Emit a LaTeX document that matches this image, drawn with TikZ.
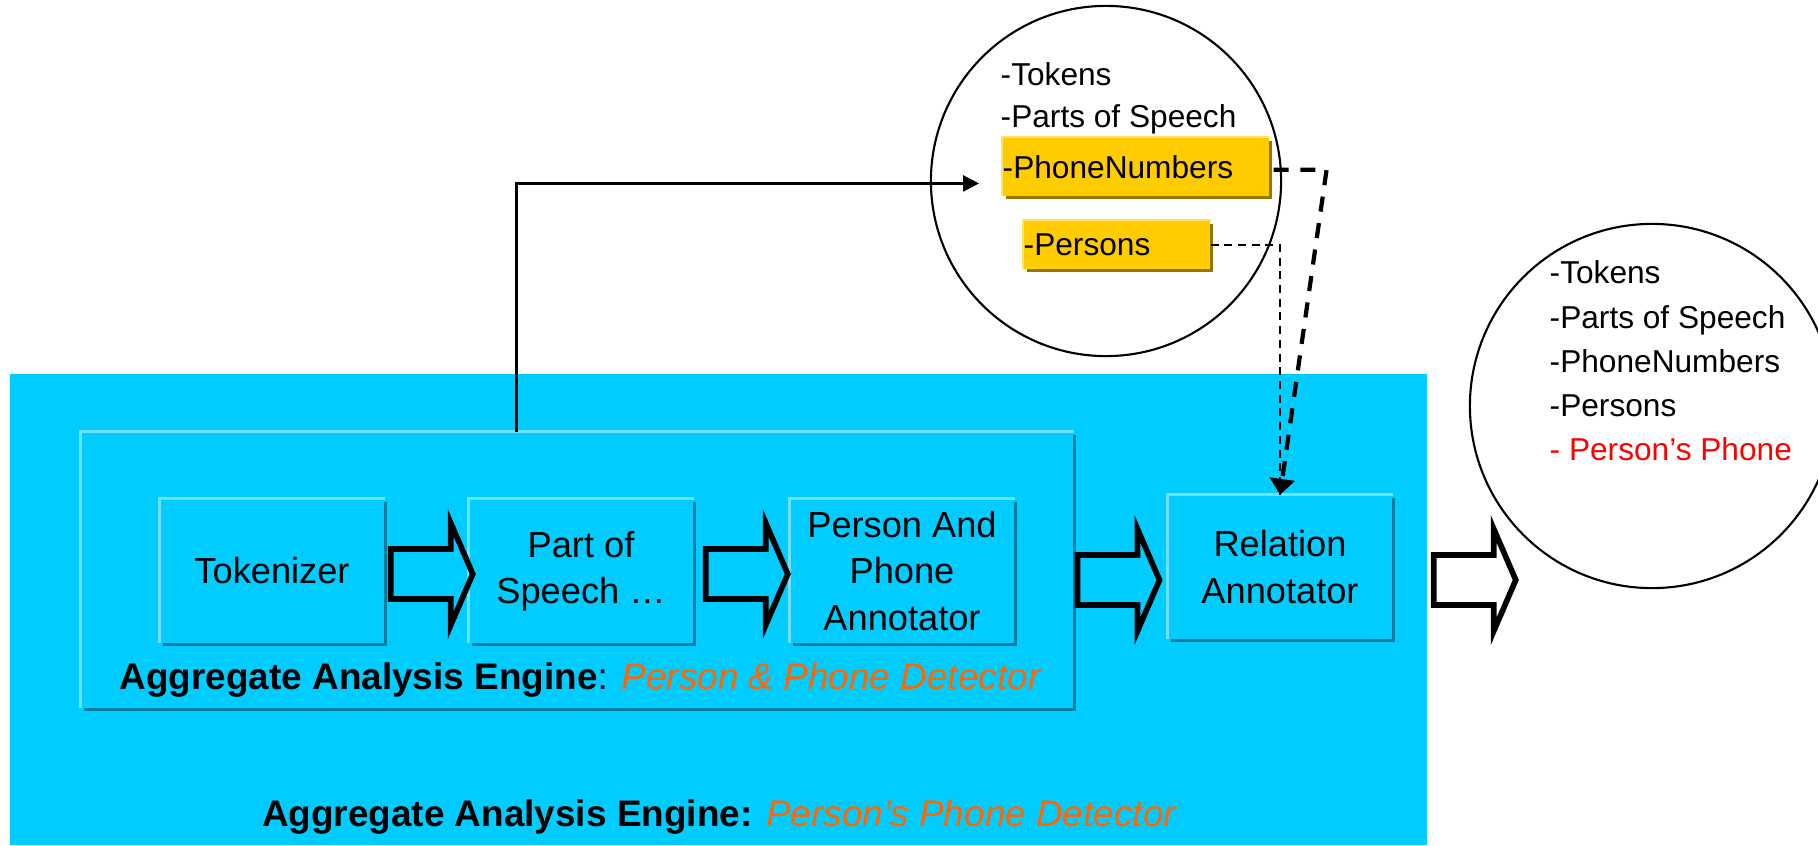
\documentclass[tikz,border=0pt]{standalone}
\usepackage{fontspec}
\setmainfont{Liberation Sans}
\usetikzlibrary{arrows.meta, calc, shadows}

\definecolor{EngineBlue}{RGB}{0,204,255}
\definecolor{EdgeLight}{RGB}{110,225,255}
\definecolor{EdgeDark}{RGB}{0,125,158}
\definecolor{MarkGold}{RGB}{255,204,0}
\definecolor{MarkGoldDark}{RGB}{150,118,0}
\definecolor{MarkGoldLight}{RGB}{255,226,110}
\definecolor{NameOrange}{RGB}{255,102,0}

% hollow block arrow, #1 = middle of its tail
\newcommand{\fatarrow}[1]{%
  \draw[fatline] (#1) ++(0,-25) -- ++(60,0) -- ++(0,-26) -- ++(22,51)
    -- ++(-22,51) -- ++(0,-26) -- ++(-60,0) -- cycle;}

\tikzset{
  modbox/.style={fill=EngineBlue, minimum width=2.24cm, minimum height=1.43cm,
    align=center, inner sep=0pt, font=\fontsize{10.3}{13.2}\selectfont,
    drop shadow={shadow xshift=0.85pt, shadow yshift=-0.85pt, fill=EdgeDark, opacity=1}},
  markbox/.style={fill=MarkGold, anchor=north west, align=left, inner sep=0pt,
    font=\fontsize{9}{11}\selectfont,
    drop shadow={shadow xshift=0.85pt, shadow yshift=-0.85pt, fill=MarkGoldDark, opacity=1}},
  listtext/.style={anchor=west, align=left, inner sep=0pt, font=\fontsize{9}{12.6}\selectfont},
  lightedge/.style={draw=EdgeLight, line width=0.8pt},
  goldedge/.style={draw=MarkGoldLight, line width=0.8pt},
  fatline/.style={line width=1.6pt, line join=miter},
  pipe/.style={line width=0.75pt},
  feed/.style={line width=1.2pt, dash pattern=on 4.3pt off 3.3pt},
  hint/.style={line width=0.6pt, dash pattern=on 2.3pt off 1.6pt},
  store/.style={circle, draw, line width=0.6pt, inner sep=0pt}
}

\begin{document}
\begin{tikzpicture}[x=0.01cm, y=-0.01cm]
  \useasboundingbox (0,0) rectangle (1818,845);

  % outer engine
  \fill[EngineBlue] (10,374) rectangle (1427,845);

  % inner engine and its annotators
  \node[modbox, minimum width=9.91cm, minimum height=2.75cm] (inner) at (577,570) {};
  \node[modbox] (tok) at (272,571) {Tokenizer};
  \node[modbox] (pos) at (581,571) {Part of\\Speech …};
  \node[modbox] (pap) at (902,571) {Person And\\Phone\\Annotator};
  \node[modbox] (rel) at (1280,567) {Relation\\Annotator};
  \foreach \n in {inner,tok,pos,pap,rel}
    \draw[lightedge] (\n.south west) |- (\n.north east);

  % flow between annotators
  \fatarrow{$(tok.east)+(6,3)$}
  \fatarrow{$(pos.east)+(12,3)$}
  \fatarrow{$(inner.east)+(4,10)$}
  \fatarrow{$(rel.east)+(41,13)$}

  % engine titles
  \node[font=\fontsize{10.5}{12}\selectfont] (innertitle) at (580,680)
    {\textbf{Aggregate Analysis Engine}: \textcolor{NameOrange}{\itshape Person \& Phone Detector}};
  \node[font=\fontsize{10.5}{12}\selectfont] (outertitle) at (719,817)
    {\textbf{Aggregate Analysis Engine:} \textcolor{NameOrange}{\itshape Person’s Phone Detector}};

  % CAS after the inner engine
  \node[store, minimum size=3.5cm] (midcas) at (1106,181) {};
  \node[listtext] (midtok) at (1000,74) {-Tokens};
  \node[listtext] (midpos) at (1000,119) {-Parts of Speech};
  \node[markbox, text width=2.66cm, minimum height=0.58cm] (phone) at (1002,137) {-PhoneNumbers};
  \node[markbox, text width=1.86cm, minimum height=0.48cm] (pers) at (1023,220) {-Persons};
  \foreach \n in {phone,pers}
    \draw[goldedge] (\n.south west) |- (\n.north east);

  % CAS after the relation annotator
  \node[store, minimum size=3.64cm] (endcas) at (1652,406) {};
  \node[listtext] (endlist) at (1549,361)
    {-Tokens\\-Parts of Speech\\-PhoneNumbers\\-Persons\\\textcolor{red}{- Person’s Phone}};

  % connectors
  \draw[pipe, -{Triangle[length=4.5pt, width=4.5pt]}]
    ($(inner.north west)+(436,0)$) |- ($(phone.south west)+(-23,-13)$);
  \draw[hint] (pers.east) -| (rel.north);
  \draw[feed, -{Triangle[length=4.5pt, width=7pt]}]
    ($(phone.east)+(4,3)$) -- ++(53,0) -- (rel.north);
\end{tikzpicture}
\end{document}
